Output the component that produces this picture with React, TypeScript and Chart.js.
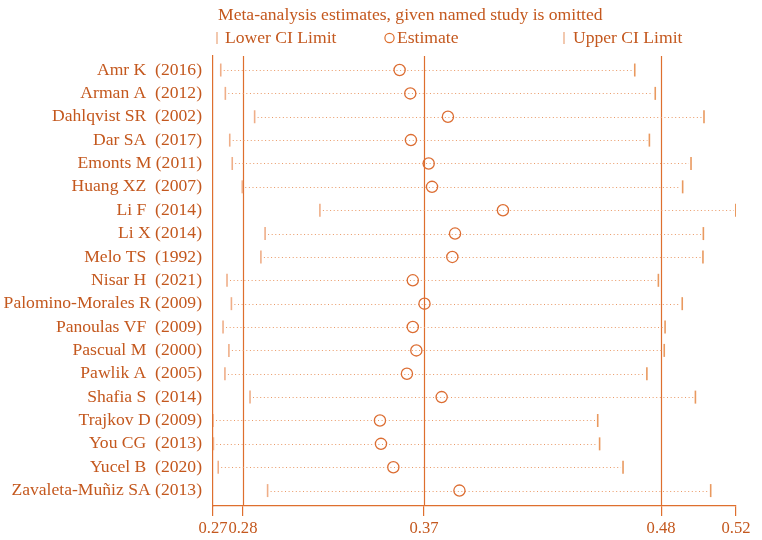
import React, { useEffect, useRef } from "react";
import { Chart, registerables } from "chart.js";

Chart.register(...registerables);

const studies = [
  "Amr K  (2016)",
  "Arman A  (2012)",
  "Dahlqvist SR  (2002)",
  "Dar SA  (2017)",
  "Emonts M (2011)",
  "Huang XZ  (2007)",
  "Li F  (2014)",
  "Li X (2014)",
  "Melo TS  (1992)",
  "Nisar H  (2021)",
  "Palomino-Morales R (2009)",
  "Panoulas VF  (2009)",
  "Pascual M  (2000)",
  "Pawlik A  (2005)",
  "Shafia S  (2014)",
  "Trajkov D (2009)",
  "You CG  (2013)",
  "Yucel B  (2020)",
  "Zavaleta-Muñiz SA (2013)",
];

const lowerCI = [
  0.2737, 0.2759, 0.2899, 0.278, 0.2792, 0.284, 0.3211, 0.2949, 0.2929, 0.2767,
  0.2788, 0.2748, 0.2776, 0.2757, 0.2877, 0.27, 0.2702, 0.2725, 0.2961,
];
const estimates = [
  0.3592, 0.3643, 0.3823, 0.3646, 0.3731, 0.3747, 0.4086, 0.3857, 0.3844, 0.3655,
  0.3711, 0.3655, 0.3672, 0.3627, 0.3793, 0.3498, 0.3503, 0.3562, 0.3878,
];
const upperCI = [
  0.4716, 0.4814, 0.5047, 0.4786, 0.4985, 0.4945, 0.5199, 0.5044, 0.5042, 0.4829,
  0.4943, 0.4861, 0.4857, 0.4774, 0.5006, 0.4539, 0.4548, 0.466, 0.5079,
];

// overall: lower CI, estimate, upper CI
const overall = [0.2843, 0.3709, 0.4842];
const xMin = 0.27;
const xMax = 0.52;
const xTicks = [0.27, 0.2843, 0.3709, 0.4842, 0.52];

const TEXT = "#c4581e";
const LINE = "#de6f2e";
const FONT = "'Liberation Serif', 'Times New Roman', serif";

const titleText = "Meta-analysis estimates, given named study is omitted";
const legendItems = ["Lower CI Limit", "Estimate", "Upper CI Limit"];

export default function App() {
  const ref = useRef<HTMLCanvasElement | null>(null);

  useEffect(() => {
    if (!ref.current) return;

    const decor = {
      id: "decor",
      beforeDatasetsDraw(chart: any) {
        const { ctx, chartArea, scales } = chart;
        const xs = scales.x;
        const ys = scales.y;
        ctx.save();
        // reference lines
        ctx.strokeStyle = LINE;
        ctx.lineWidth = 1.2;
        overall.forEach((v) => {
          const px = Math.round(xs.getPixelForValue(v)) + 0.5;
          ctx.beginPath();
          ctx.moveTo(px, chartArea.top);
          ctx.lineTo(px, chartArea.bottom);
          ctx.stroke();
        });
        // dotted CI lines
        ctx.strokeStyle = "#ea9966";
        ctx.lineWidth = 1;
        ctx.setLineDash([1, 2.6]);
        studies.forEach((_, i) => {
          const py = Math.round(ys.getPixelForValue(i)) + 0.5;
          ctx.beginPath();
          ctx.moveTo(xs.getPixelForValue(lowerCI[i]) + 3, py);
          ctx.lineTo(xs.getPixelForValue(upperCI[i]) - 2, py);
          ctx.stroke();
        });
        ctx.restore();
      },
      afterDraw(chart: any) {
        const { ctx, chartArea } = chart;
        ctx.save();
        ctx.fillStyle = TEXT;
        ctx.textBaseline = "middle";
        ctx.textAlign = "left";
        ctx.font = `17.6px ${FONT}`;
        ctx.fillText(titleText, chartArea.left + 5, 15);
        const ly = 38;
        // lower
        ctx.strokeStyle = "#eaa47a";
        ctx.lineWidth = 1.2;
        ctx.beginPath();
        ctx.moveTo(chartArea.left + 4, ly - 6);
        ctx.lineTo(chartArea.left + 4, ly + 6);
        ctx.stroke();
        ctx.fillText(legendItems[0], chartArea.left + 12, ly);
        // estimate
        ctx.strokeStyle = LINE;
        ctx.beginPath();
        ctx.arc(chartArea.left + 176.5, ly, 4.6, 0, Math.PI * 2);
        ctx.stroke();
        ctx.fillText(legendItems[1], chartArea.left + 184, ly);
        // upper
        ctx.strokeStyle = "#eaa47a";
        ctx.beginPath();
        ctx.moveTo(chartArea.left + 351, ly - 6);
        ctx.lineTo(chartArea.left + 351, ly + 6);
        ctx.stroke();
        ctx.fillText(legendItems[2], chartArea.left + 360, ly);
        ctx.restore();
      },
    };

    const chart = new Chart(ref.current, {
      type: "scatter",
      data: {
        datasets: [
          {
            label: "Lower CI Limit",
            data: studies.map((_, i) => ({ x: lowerCI[i], y: i })),
            pointStyle: "line",
            rotation: 90,
            radius: 6.5,
            borderColor: "#efae88",
            borderWidth: 1.6,
          } as any,
          {
            label: "Upper CI Limit",
            data: studies.map((_, i) => ({ x: upperCI[i], y: i })),
            pointStyle: "line",
            rotation: 90,
            radius: 6.5,
            borderColor: "#e9995f",
            borderWidth: 1.6,
          } as any,
          {
            label: "Estimate",
            data: studies.map((_, i) => ({ x: estimates[i], y: i })),
            pointStyle: "circle",
            radius: 5.6,
            borderColor: "#dc6d32",
            backgroundColor: "rgba(0,0,0,0)",
            borderWidth: 1.3,
          } as any,
        ],
      },
      options: {
        animation: false,
        responsive: false,
        devicePixelRatio: 1,
        layout: { padding: { top: 56, right: 26, left: 0, bottom: 0 } },
        plugins: {
          legend: { display: false },
          title: { display: false },
          tooltip: { enabled: false },
        },
        scales: {
          x: {
            type: "linear",
            min: xMin,
            max: xMax,
            afterBuildTicks: (scale: any) => {
              scale.ticks = xTicks.map((v) => ({ value: v }));
            },
            afterFit: (scale: any) => {
              scale.height = 34;
            },
            ticks: {
              autoSkip: false,
              maxRotation: 0,
              minRotation: 0,
              padding: 3,
              color: TEXT,
              font: { family: FONT, size: 16.6 },
              callback: (v: any) => Number(v).toFixed(2),
            },
            grid: {
              drawOnChartArea: false,
              drawTicks: true,
              tickLength: 10,
              color: LINE,
              lineWidth: 1.2,
            },
            border: { display: true, color: LINE, width: 1.2 },
          },
          y: {
            type: "linear",
            reverse: true,
            min: -0.6,
            max: 18.66,
            afterBuildTicks: (scale: any) => {
              scale.ticks = studies.map((_, i) => ({ value: i }));
            },
            afterFit: (scale: any) => {
              scale.width = 213;
            },
            ticks: {
              autoSkip: false,
              padding: 11,
              color: TEXT,
              font: { family: FONT, size: 17.6 },
              callback: (v: any) => studies[Math.round(Number(v))] ?? "",
            },
            grid: { display: false, drawTicks: false },
            border: { display: true, color: LINE, width: 1.2 },
          },
        },
      } as any,
      plugins: [decor],
    });

    return () => chart.destroy();
  }, []);

  return (
    <div style={{ position: "fixed", left: 0, top: 0, width: 762, height: 540, background: "#fff" }}>
      <canvas ref={ref} width={762} height={540} style={{ width: 762, height: 540, display: "block" }} />
    </div>
  );
}
